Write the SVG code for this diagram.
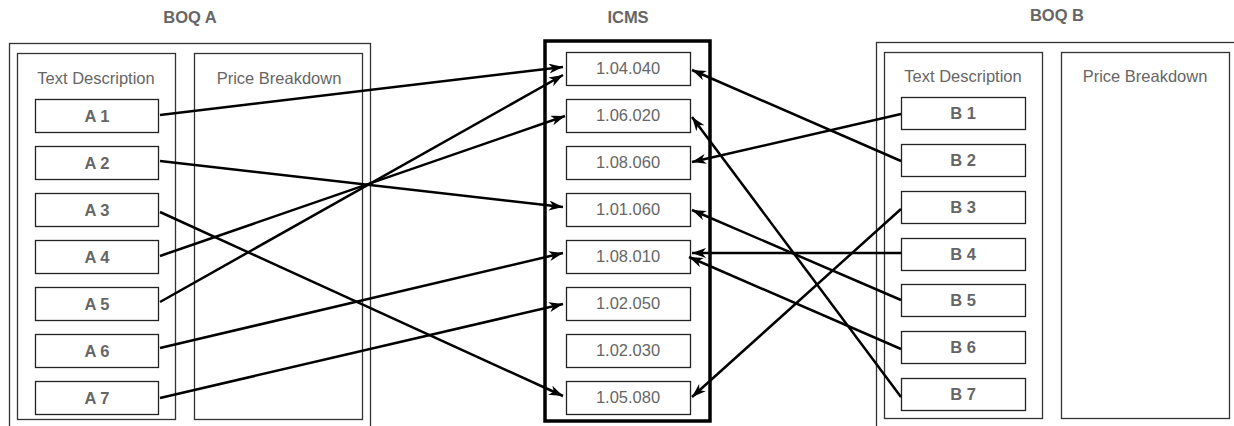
<svg xmlns="http://www.w3.org/2000/svg" width="1234" height="426" viewBox="0 0 1234 426">
<defs>
<style>
.bg{fill:#fff}
.frame{fill:#fff;stroke:#333;stroke-width:1.3}
.box{fill:#fff;stroke:#222;stroke-width:1.3}
.icms{fill:#fff;stroke:#000;stroke-width:3.5}
.t{font-family:"Liberation Sans",Arial,sans-serif;font-size:16.5px;fill:#666;text-anchor:middle}
.b{font-family:"Liberation Sans",Arial,sans-serif;font-size:16.5px;font-weight:bold;fill:#666;text-anchor:middle}
.c{stroke:#000;stroke-width:2.5;fill:none;marker-end:url(#arr)}
</style>
<marker id="arr" markerUnits="userSpaceOnUse" markerWidth="16" markerHeight="12" refX="14" refY="5" orient="auto">
<path d="M0,0 L14,5 L0,10 L4,5 Z" fill="#000"/>
</marker>
</defs>
<rect class="bg" x="0" y="0" width="1234" height="426"/>

<g id="boqA">
<text class="b" x="190" y="23">BOQ A</text>
<rect class="frame" x="9.5" y="43.5" width="361" height="400"/>
<rect class="frame" x="17.5" y="53.5" width="158" height="366"/>
<rect class="frame" x="194.5" y="53.5" width="168" height="366"/>
<text class="t" x="96" y="84">Text Description</text>
<text class="t" x="279" y="84">Price Breakdown</text>
</g>
<g id="A1"><rect class="box" x="35.5" y="99.5" width="123" height="33"/><text class="b" x="97" y="122">A 1</text></g>
<g id="A2"><rect class="box" x="35.5" y="146.5" width="123" height="33"/><text class="b" x="97" y="169">A 2</text></g>
<g id="A3"><rect class="box" x="35.5" y="193.5" width="123" height="33"/><text class="b" x="97" y="216">A 3</text></g>
<g id="A4"><rect class="box" x="35.5" y="240.5" width="123" height="33"/><text class="b" x="97" y="263">A 4</text></g>
<g id="A5"><rect class="box" x="35.5" y="287.5" width="123" height="33"/><text class="b" x="97" y="310">A 5</text></g>
<g id="A6"><rect class="box" x="35.5" y="334.5" width="123" height="33"/><text class="b" x="97" y="357">A 6</text></g>
<g id="A7"><rect class="box" x="35.5" y="381.5" width="123" height="33"/><text class="b" x="97" y="404">A 7</text></g>

<g id="icms">
<text class="b" x="628" y="23">ICMS</text>
<rect class="icms" x="545" y="41" width="165" height="380"/>
</g>
<g id="I1"><rect class="box" x="566.5" y="52.5" width="124" height="33"/><text class="t" x="628" y="74">1.04.040</text></g>
<g id="I2"><rect class="box" x="566.5" y="99.5" width="124" height="33"/><text class="t" x="628" y="121">1.06.020</text></g>
<g id="I3"><rect class="box" x="566.5" y="146.5" width="124" height="33"/><text class="t" x="628" y="168">1.08.060</text></g>
<g id="I4"><rect class="box" x="566.5" y="193.5" width="124" height="33"/><text class="t" x="628" y="215">1.01.060</text></g>
<g id="I5"><rect class="box" x="566.5" y="240.5" width="124" height="33"/><text class="t" x="628" y="262">1.08.010</text></g>
<g id="I6"><rect class="box" x="566.5" y="287.5" width="124" height="33"/><text class="t" x="628" y="309">1.02.050</text></g>
<g id="I7"><rect class="box" x="566.5" y="334.5" width="124" height="33"/><text class="t" x="628" y="356">1.02.030</text></g>
<g id="I8"><rect class="box" x="566.5" y="381.5" width="124" height="33"/><text class="t" x="628" y="403">1.05.080</text></g>

<g id="boqB">
<text class="b" x="1057" y="21">BOQ B</text>
<rect class="frame" x="876.5" y="42.5" width="400" height="400"/>
<rect class="frame" x="884.5" y="52.5" width="158" height="366"/>
<rect class="frame" x="1061.5" y="52.5" width="168" height="366"/>
<text class="t" x="963" y="82">Text Description</text>
<text class="t" x="1145" y="82">Price Breakdown</text>
</g>
<g id="B1"><rect class="box" x="901.5" y="97.5" width="124" height="32"/><text class="b" x="963" y="119">B 1</text></g>
<g id="B2"><rect class="box" x="901.5" y="144.5" width="124" height="32"/><text class="b" x="963" y="166">B 2</text></g>
<g id="B3"><rect class="box" x="901.5" y="191.5" width="124" height="32"/><text class="b" x="963" y="213">B 3</text></g>
<g id="B4"><rect class="box" x="901.5" y="238.5" width="124" height="32"/><text class="b" x="963" y="260">B 4</text></g>
<g id="B5"><rect class="box" x="901.5" y="284.5" width="124" height="32"/><text class="b" x="963" y="306">B 5</text></g>
<g id="B6"><rect class="box" x="901.5" y="331.5" width="124" height="32"/><text class="b" x="963" y="353">B 6</text></g>
<g id="B7"><rect class="box" x="901.5" y="378.5" width="124" height="32"/><text class="b" x="963" y="400">B 7</text></g>

<g id="connectors">
<line class="c" x1="160" y1="115" x2="563" y2="67"/>
<line class="c" x1="160" y1="161" x2="563" y2="207"/>
<line class="c" x1="160" y1="212" x2="563" y2="396"/>
<line class="c" x1="160" y1="256" x2="565" y2="116"/>
<line class="c" x1="160" y1="302" x2="563" y2="75"/>
<line class="c" x1="160" y1="348" x2="563" y2="253"/>
<line class="c" x1="160" y1="398" x2="563" y2="304"/>
<line class="c" x1="901" y1="114" x2="692" y2="162"/>
<line class="c" x1="901" y1="161" x2="692" y2="70"/>
<line class="c" x1="901" y1="209" x2="692" y2="397"/>
<line class="c" x1="901" y1="253" x2="692" y2="253"/>
<line class="c" x1="901" y1="300" x2="692" y2="210"/>
<line class="c" x1="901" y1="349" x2="689" y2="257"/>
<line class="c" x1="901" y1="397" x2="692" y2="117"/>
</g>
</svg>
